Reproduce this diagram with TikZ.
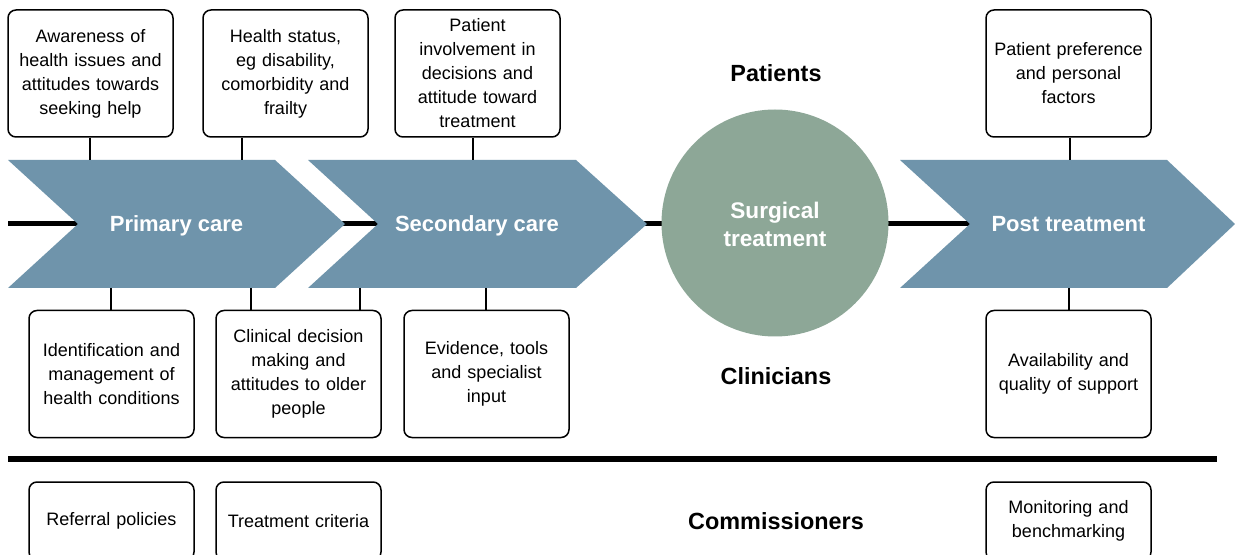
\documentclass[tikz,border=0pt]{standalone}
\usepackage{fontspec}
\setmainfont{Liberation Sans}
\definecolor{chev}{HTML}{6F94AB}
\definecolor{surg}{HTML}{8DA797}
\tikzset{
  box/.style={draw, line width=0.75pt, rounded corners=4pt, minimum width=82.5pt,
    minimum height=63.5pt, align=center, inner sep=0pt, text width=78pt,
    font=\fontsize{9}{12}\selectfont},
  cbox/.style={box, minimum height=39pt},
  chevron/.style={fill=chev, draw=none},
  steplabel/.style={text=white, anchor=base, font=\fontsize{11}{14}\selectfont\bfseries},
  heading/.style={anchor=base, font=\fontsize{11.7}{14}\selectfont\bfseries},
  link/.style={line width=0.7pt},
  spine/.style={line width=2.5pt}
}
\begin{document}
\begin{tikzpicture}[x=0.5pt,y=-0.5pt]
\clip (0,0) rectangle (1235,555);
\fill[white] (0,0) rectangle (1235,555);
% spine
\coordinate (spineL) at (8,224);
\coordinate (spineR) at (970,224);
\draw[spine] (spineL) -- (spineR);
% chevrons
\fill[chevron] (8,160) -- (275,160) -- (345,224) -- (275,288) -- (8,288) -- (78,224) -- cycle;
\fill[chevron] (308,160) -- (576,160) -- (647,224) -- (576,288) -- (308,288) -- (378,224) -- cycle;
\fill[chevron] (900,160) -- (1167,160) -- (1235,224) -- (1167,288) -- (900,288) -- (970,224) -- cycle;
\node[steplabel] (pc) at (176.5,232) {Primary care};
\node[steplabel] (sc) at (477,232) {Secondary care};
\node[steplabel] (pt) at (1068.5,232) {Post treatment};
% circle
\node[circle, fill=surg, minimum size=113.5pt, inner sep=0pt] (st) at (775,223) {};
\node[align=center, anchor=base, text=white, font=\fontsize{11.3}{14}\selectfont\bfseries] (stl) at (775,247) {Surgical\\treatment};
% headings
\node[heading] (patients) at (776,82) {Patients};
\node[heading] (clinicians) at (776,384) {Clinicians};
\node[heading] (comm) at (776,529) {Commissioners};
% top boxes
\node[box] (b1) at (90.5,73.5) {Awareness of\\health issues and\\attitudes towards\\seeking help};
\node[box] (b2) at (285.5,73.5) {Health status,\\eg disability,\\comorbidity and\\frailty};
\node[box] (b3) at (477.5,73.5) {Patient\\involvement in\\decisions and\\attitude toward\\treatment};
\node[box] (b4) at (1068.5,73.5) {Patient preference\\and personal\\factors};
% clinician boxes
\node[box] (b5) at (111.5,374) {Identification and\\management of\\health conditions};
\node[box] (b6) at (298.5,374) {Clinical decision\\making and\\attitudes to older\\people};
\node[box] (b7) at (486.5,374) {Evidence, tools\\and specialist\\input};
\node[box] (b8) at (1068.5,374) {Availability and\\quality of support};
% commissioner boxes
\node[cbox] (b9) at (111.5,521) {Referral policies};
\node[cbox] (b10) at (298.5,521) {Treatment criteria};
\node[cbox] (b11) at (1068.5,521) {Monitoring and\\benchmarking};
% separator
\coordinate (sepL) at (8,459);
\coordinate (sepR) at (1217,459);
\draw[line width=2.8pt] (sepL) -- (sepR);
% connectors top
\coordinate (t1) at (90,160);
\coordinate (t2) at (242,160);
\coordinate (t3) at (473,160);
\coordinate (t4) at (1070,160);
\draw[link] (t1 |- b1.south) -- (t1);
\draw[link] (t2 |- b2.south) -- (t2);
\draw[link] (t3 |- b3.south) -- (t3);
\draw[link] (t4 |- b4.south) -- (t4);
% connectors bottom
\coordinate (u1) at (111,288);
\coordinate (u2) at (251,288);
\coordinate (u3) at (360,288);
\coordinate (u4) at (486,288);
\coordinate (u5) at (1069,288);
\draw[link] (u1) -- (u1 |- b5.north);
\draw[link] (u2) -- (u2 |- b6.north);
\draw[link] (u3) -- (u3 |- b6.north);
\draw[link] (u4) -- (u4 |- b7.north);
\draw[link] (u5) -- (u5 |- b8.north);
\end{tikzpicture}
\end{document}
